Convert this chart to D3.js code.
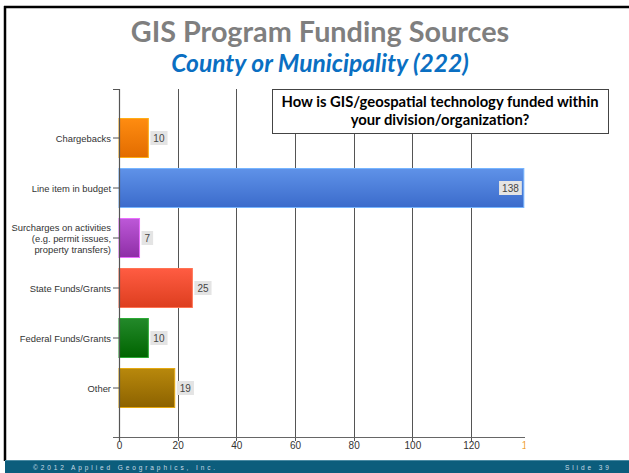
<!DOCTYPE html>
<html>
<head>
<meta charset="utf-8">
<script src="https://cdn.jsdelivr.net/npm/d3@7"></script>
<style>
  body { margin: 0; background: #fff; }
  svg { display: block; }
</style>
</head>
<body>
<svg width="629" height="473"></svg>
<script>
var categories = ["Chargebacks", "Line item in budget", "Surcharges on activities|(e.g. permit issues,|property transfers)", "State Funds/Grants", "Federal Funds/Grants", "Other"];
var values = [10, 138, 7, 25, 10, 19];
var tickValues = [0, 20, 40, 60, 80, 100, 120, 140];
var barTop = ["#ff8c10", "#5f92e8", "#bd58d8", "#ff5c42", "#23892a", "#b8880c"];
var barBottom = ["#e26c00", "#3b6bcb", "#8e2ea6", "#dd3e1f", "#006400", "#8c6200"];

var svg = d3.select("svg");

// slide frame
svg.append("line").attr("x1", 4).attr("x2", 629).attr("y1", 7).attr("y2", 7)
    .attr("stroke", "#000").attr("stroke-width", 2.5);
svg.append("line").attr("x1", 5).attr("x2", 5).attr("y1", 6).attr("y2", 461)
    .attr("stroke", "#000").attr("stroke-width", 2.5);

svg.append("text").attr("x", 320).attr("y", 42).attr("text-anchor", "middle")
    .attr("font-family", "Lato").attr("font-weight", "bold").attr("font-size", 28.8)
    .attr("fill", "#7f7f7f").text("GIS Program Funding Sources");
svg.append("text").attr("x", 320).attr("y", 72).attr("text-anchor", "middle")
    .attr("font-family", "Lato").attr("font-weight", "bold").attr("font-style", "italic")
    .attr("font-size", 24.6).attr("fill", "#0a6fc2").text("County or Municipality (222)");

var x = d3.scaleLinear().domain([0, 140]).range([119, 529.7]);
var y = d3.scaleBand().domain(categories).range([113, 413]).paddingInner(0.22).paddingOuter(0.11);

var defs = svg.append("defs");
categories.forEach(function(c, i) {
    var g = defs.append("linearGradient").attr("id", "g" + i)
        .attr("x1", 0).attr("x2", 0).attr("y1", 0).attr("y2", 1);
    g.append("stop").attr("offset", "0%").attr("stop-color", barTop[i]);
    g.append("stop").attr("offset", "100%").attr("stop-color", barBottom[i]);
});
defs.append("clipPath").attr("id", "clip").append("rect")
    .attr("x", 0).attr("y", 0).attr("width", 529).attr("height", 473);
defs.append("clipPath").attr("id", "clipTicks").append("rect")
    .attr("x", 0).attr("y", 0).attr("width", 525.5).attr("height", 473);

var chart = svg.append("g").attr("clip-path", "url(#clip)");

// gridlines
chart.selectAll(".grid").data(tickValues.slice(1)).enter().append("line")
    .attr("x1", function(d) { return Math.round(x(d)) + 0.5; })
    .attr("x2", function(d) { return Math.round(x(d)) + 0.5; })
    .attr("y1", 89).attr("y2", 441)
    .attr("stroke", "#555").attr("stroke-width", 1);

// bottom axis
var xAxis = svg.append("g").attr("clip-path", "url(#clipTicks)")
    .append("g").attr("transform", "translate(0,437)")
    .call(d3.axisBottom(x).tickValues(tickValues).tickSize(0).tickPadding(5));
xAxis.select(".domain").remove();
xAxis.selectAll("text").attr("font-family", "Liberation Sans").attr("font-size", 10)
    .attr("fill", function(d) { return d === 140 ? "#f0a040" : "#333"; });
chart.append("line").attr("x1", 113).attr("x2", 525).attr("y1", 437.5).attr("y2", 437.5)
    .attr("stroke", "#666").attr("stroke-width", 1.2);

// bars
chart.selectAll(".bar").data(values).enter().append("rect")
    .attr("x", x(0))
    .attr("y", function(d, i) { return y(categories[i]); })
    .attr("width", function(d) { return x(d) - x(0); })
    .attr("height", y.bandwidth())
    .attr("fill", function(d, i) { return "url(#g" + i + ")"; })
    .attr("stroke", function(d, i) { return d3.color(barTop[i]).brighter(0.6); })
    .attr("stroke-width", 1);

// value labels
values.forEach(function(v, i) {
    var cy = y(categories[i]) + y.bandwidth() / 2;
    var w = String(v).length * 5.6 + 6;
    var inside = x(v) + w + 4 > 529;
    var bx = inside ? x(v) - w - 2 : x(v) + 2;
    chart.append("rect").attr("x", bx).attr("y", cy - 7).attr("width", w).attr("height", 14)
        .attr("fill", "#e4e4e4");
    chart.append("text").attr("x", bx + w / 2).attr("y", cy + 3.5).attr("text-anchor", "middle")
        .attr("font-family", "Liberation Sans").attr("font-size", 10).attr("fill", "#444").text(v);
});

// left axis
svg.append("line").attr("x1", 119.5).attr("x2", 119.5).attr("y1", 89).attr("y2", 441)
    .attr("stroke", "#555").attr("stroke-width", 1.2);
svg.append("line").attr("x1", 113).attr("x2", 120).attr("y1", 89.5).attr("y2", 89.5)
    .attr("stroke", "#555");
categories.forEach(function(c, i) {
    var cy = y(c) + y.bandwidth() / 2;
    svg.append("line").attr("x1", 113).attr("x2", 119).attr("y1", cy).attr("y2", cy)
        .attr("stroke", "#555");
    var lines = c.split("|");
    var t = svg.append("text").attr("text-anchor", "end")
        .attr("font-family", "Liberation Sans").attr("font-size", 9.4).attr("fill", "#333");
    lines.forEach(function(l, j) {
        t.append("tspan").attr("x", 111)
            .attr("y", cy + 3.5 + (j - (lines.length - 1) / 2) * 11).text(l);
    });
});

// question box
svg.append("rect").attr("x", 272.5).attr("y", 89.5).attr("width", 336).attr("height", 44)
    .attr("fill", "#fff").attr("stroke", "#444").attr("stroke-width", 1);
svg.append("text").attr("x", 440).attr("y", 107).attr("text-anchor", "middle")
    .attr("font-family", "Lato").attr("font-weight", "bold").attr("font-size", 14.8)
    .attr("fill", "#000").text("How is GIS/geospatial technology funded within");
svg.append("text").attr("x", 440).attr("y", 125).attr("text-anchor", "middle")
    .attr("font-family", "Lato").attr("font-weight", "bold").attr("font-size", 14.8)
    .attr("fill", "#000").text("your division/organization?");

// footer
svg.append("rect").attr("x", 5).attr("y", 460).attr("width", 624).attr("height", 13)
    .attr("fill", "#0c5d7c");
svg.append("line").attr("x1", 5).attr("x2", 629).attr("y1", 460.5).attr("y2", 460.5)
    .attr("stroke", "#4a8aa3");
svg.append("text").attr("x", 33).attr("y", 470).attr("font-family", "Liberation Sans")
    .attr("font-size", 6.5).attr("letter-spacing", 2.9).attr("fill", "#c8dbe4")
    .text("©2012 Applied Geographics, Inc.");
svg.append("text").attr("x", 565).attr("y", 470).attr("font-family", "Liberation Sans")
    .attr("font-size", 6.5).attr("letter-spacing", 2.9).attr("fill", "#c8dbe4")
    .text("Slide 39");
</script>
</body>
</html>
